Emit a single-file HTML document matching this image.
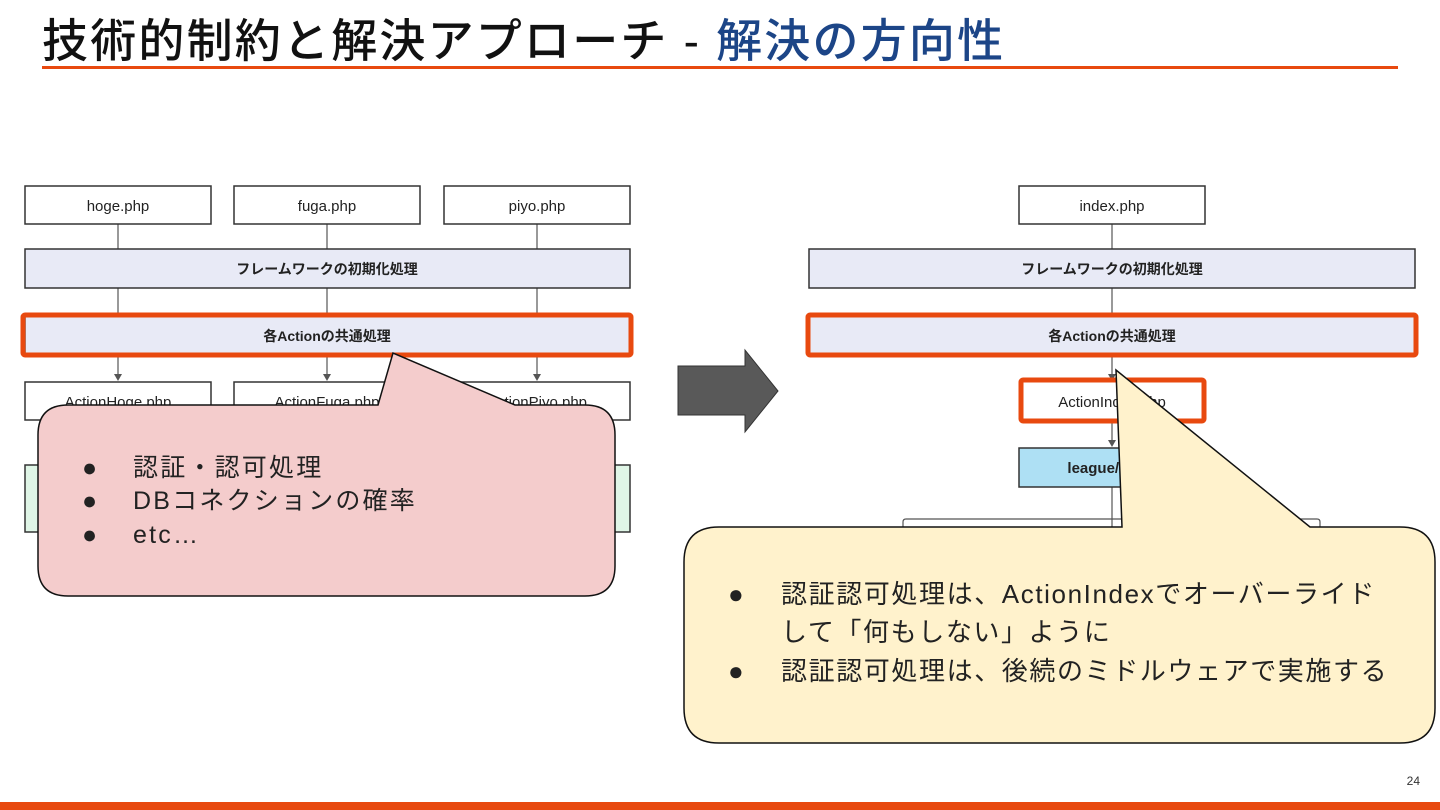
<!DOCTYPE html>
<html><head><meta charset="utf-8"><style>
html,body{margin:0;padding:0;background:#fff;}
svg{display:block;}
text{font-family:"Liberation Sans","Noto Sans CJK JP",sans-serif;}
</style></head><body>
<svg width="1440" height="810" viewBox="0 0 1440 810" xmlns="http://www.w3.org/2000/svg">
<text x="42" y="57" font-size="46" font-weight="500" fill="#111" letter-spacing="2.2">技術的制約と解決アプローチ - <tspan fill="#1c4587">解決の方向性</tspan></text>
<rect x="42" y="66" width="1356" height="3" fill="#e8490f"/>
<rect x="0" y="802" width="1440" height="8" fill="#e8490f"/>
<text x="1420" y="785" font-size="12" fill="#333" text-anchor="end">24</text>

<g stroke="#555" stroke-width="1.2" fill="none">
<line x1="118" y1="224" x2="118" y2="249"/><line x1="327" y1="224" x2="327" y2="249"/><line x1="537" y1="224" x2="537" y2="249"/>
<line x1="118" y1="288" x2="118" y2="316"/><line x1="327" y1="288" x2="327" y2="316"/><line x1="537" y1="288" x2="537" y2="316"/>
<line x1="118" y1="356" x2="118" y2="376"/><line x1="327" y1="356" x2="327" y2="376"/><line x1="537" y1="356" x2="537" y2="376"/>
<line x1="1112" y1="224" x2="1112" y2="249"/><line x1="1112" y1="288" x2="1112" y2="316"/><line x1="1112" y1="356" x2="1112" y2="376"/>
<line x1="1112" y1="421" x2="1112" y2="442"/><line x1="1112" y1="487" x2="1112" y2="527"/>
<path d="M903 527 V522 Q903 519 906 519 H1317 Q1320 519 1320 522 V527"/>
</g>
<g fill="#555">
<path d="M114 374 L122 374 L118 381Z"/><path d="M323 374 L331 374 L327 381Z"/><path d="M533 374 L541 374 L537 381Z"/>
<path d="M1108 374 L1116 374 L1112 381Z"/><path d="M1108 440 L1116 440 L1112 447Z"/>
</g>

<g stroke="#333" stroke-width="1.5" fill="#fff">
<rect x="25" y="186" width="186" height="38"/><rect x="234" y="186" width="186" height="38"/><rect x="444" y="186" width="186" height="38"/>
<rect x="25" y="249" width="605" height="39" fill="#e8eaf6"/>
<rect x="25" y="316" width="605" height="38" fill="#e8eaf6"/>
<rect x="25" y="382" width="186" height="38"/><rect x="234" y="382" width="186" height="38"/><rect x="444" y="382" width="186" height="38"/>
<rect x="25" y="465" width="605" height="67" fill="#dff5e6"/>
<rect x="1019" y="186" width="186" height="38"/>
<rect x="809" y="249" width="606" height="39" fill="#e8eaf6"/>
<rect x="809" y="316" width="606" height="38" fill="#e8eaf6"/>
<rect x="1019" y="448" width="186" height="39" fill="#aee0f4"/>
</g>
<g fill="none" stroke="#e8490f" stroke-width="5">
<rect x="23" y="315" width="608" height="40" rx="2"/>
<rect x="808" y="315" width="608" height="40" rx="2"/>
<rect x="1021" y="380" width="183" height="41" rx="2"/>
</g>
<g font-size="15" fill="#222" text-anchor="middle">
<text x="118" y="407">ActionHoge.php</text><text x="327" y="407">ActionFuga.php</text><text x="537" y="407">ActionPiyo.php</text>
<text x="118" y="211">hoge.php</text><text x="327" y="211">fuga.php</text><text x="537" y="211">piyo.php</text>
<text x="1112" y="211">index.php</text><text x="1112" y="407">ActionIndex.php</text>
<g font-weight="bold" font-size="14"><text x="327" y="274">フレームワークの初期化処理</text><text x="327" y="341">各Actionの共通処理</text>
<text x="1112" y="274">フレームワークの初期化処理</text><text x="1112" y="341">各Actionの共通処理</text>
<text x="1112" y="473" font-size="15">league/route</text></g>
</g>

<path d="M678 366 H745 V350 L778 391 L745 432 V415 H678Z" fill="#595959" stroke="#333" stroke-width="1"/>

<path d="M68 405 H378 L393 353 L515 405 H585 Q615 405 615 435 V566 Q615 596 585 596 H68 Q38 596 38 566 V435 Q38 405 68 405Z" fill="#f4cccc" stroke="#111" stroke-width="1.5"/>
<g font-size="25" fill="#222" letter-spacing="2.2">
<text x="82" y="476" letter-spacing="0">●</text><text x="133" y="476">認証・認可処理</text>
<text x="82" y="509" letter-spacing="0">●</text><text x="133" y="509">DBコネクションの確率</text>
<text x="82" y="543" letter-spacing="0">●</text><text x="133" y="543">etc…</text>
</g>

<path d="M719 527 H1122 L1116 370 L1310 527 H1400 Q1435 527 1435 562 V708 Q1435 743 1400 743 H719 Q684 743 684 708 V562 Q684 527 719 527Z" fill="#fff2cc" stroke="#111" stroke-width="1.5"/>
<g font-size="26" fill="#222" letter-spacing="1.6">
<text x="728" y="603" letter-spacing="0">●</text><text x="781" y="603">認証認可処理は、ActionIndexでオーバーライド</text>
<text x="781" y="641">して「何もしない」ように</text>
<text x="728" y="680" letter-spacing="0">●</text><text x="781" y="680">認証認可処理は、後続のミドルウェアで実施する</text>
</g>
</svg>
</body></html>
